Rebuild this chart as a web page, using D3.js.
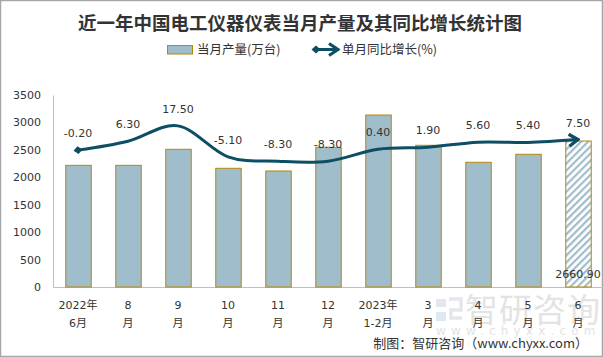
<!DOCTYPE html>
<html><head><meta charset="utf-8">
<script src="https://cdn.jsdelivr.net/npm/d3@7"></script>
<style>html,body{margin:0;padding:0;background:#fff}svg{display:block}</style>
</head><body><svg id="c" width="603" height="357"></svg>
<script>
const categories = [["2022年","6月"],["8","月"],["9","月"],["10","月"],["11","月"],["12","月"],["2023年","1-2月"],["3","月"],["4","月"],["5","月"],["6","月"]];
const output = [2218, 2218, 2510, 2164, 2115, 2546, 3135, 2583, 2273, 2419, 2660.90];
const growth = [-0.20, 6.30, 17.50, -5.10, -8.30, -8.30, 0.40, 1.90, 5.60, 5.40, 7.50];
const yTicks = [0, 500, 1000, 1500, 2000, 2500, 3000, 3500];

const W = 603, H = 357;
const svg = d3.select("#c");
const numFont = "'DejaVu Sans', 'Noto Sans CJK SC', sans-serif";
const cjkFont = "'Noto Sans CJK SC', sans-serif";
const barFill = "#9fbdca", barStroke = "#b8860b", lineCol = "#0c4e63", txt = "#333";
const fmt2 = v => v.toFixed(2);

// border
svg.append("rect").attr("x",0.5).attr("y",0.5).attr("width",W-1).attr("height",H-1)
  .attr("fill","#fff").attr("stroke","#a6a6a6").attr("stroke-width",1.5);

const defs = svg.append("defs");
const pat = defs.append("pattern").attr("id","hatch").attr("patternUnits","userSpaceOnUse")
  .attr("width",5).attr("height",5).attr("patternTransform","rotate(45)");
pat.append("rect").attr("width",5).attr("height",5).attr("fill","#fff");
pat.append("rect").attr("x",0).attr("y",0).attr("width",2.2).attr("height",5).attr("fill",barFill);

defs.append("marker").attr("id","diam").attr("viewBox","-5 -5 10 10").attr("markerWidth",10).attr("markerHeight",10)
  .attr("markerUnits","userSpaceOnUse").attr("orient","auto")
  .append("path").attr("d","M-4.5,0L0,-4L4.5,0L0,4Z").attr("fill",lineCol);
defs.append("marker").attr("id","arr").attr("viewBox","-12 -8 14 16").attr("markerWidth",14).attr("markerHeight",16)
  .attr("markerUnits","userSpaceOnUse").attr("orient","auto")
  .append("path").attr("d","M-9,-6L0,0L-9,6").attr("fill","none").attr("stroke",lineCol).attr("stroke-width",3.2)
  .attr("stroke-linejoin","miter");

// title
svg.append("text").attr("x",300).attr("y",30).attr("text-anchor","middle")
  .attr("font-family","'Noto Sans CJK SC', serif").attr("font-weight","bold").attr("font-size",18.5)
  .attr("fill","#333").text("近一年中国电工仪器仪表当月产量及其同比增长统计图");

// legend
svg.append("rect").attr("x",167.5).attr("y",45.5).attr("width",25).attr("height",8.5)
  .attr("fill",barFill).attr("stroke",barStroke).attr("stroke-width",1);
svg.append("text").attr("x",197).attr("y",54).attr("font-family",cjkFont).attr("font-size",12.5)
  .attr("fill",txt).text("当月产量(万台)");
svg.append("line").attr("x1",316).attr("x2",338).attr("y1",49.5).attr("y2",49.5)
  .attr("stroke",lineCol).attr("stroke-width",3).attr("marker-start","url(#diam)").attr("marker-end","url(#arr)");
svg.append("text").attr("x",342).attr("y",54).attr("font-family",cjkFont).attr("font-size",12.5)
  .attr("fill",txt).text("单月同比增长(%)");

// scales
const x = d3.scaleBand().domain(d3.range(categories.length)).range([53,603]).paddingInner(0.49).paddingOuter(0.245);
const y = d3.scaleLinear().domain([0,3500]).range([287,95]);
const y2 = d3.scaleLinear().domain([-100,40]).range([287,95]);

// y axis labels
const yAxis = d3.axisLeft(y).tickValues(yTicks).tickFormat(d3.format("d")).tickSize(0).tickPadding(12);
const ga = svg.append("g").attr("transform","translate(53,0)").call(yAxis);
ga.select(".domain").attr("stroke","#bfbfbf").attr("stroke-width",1);
ga.selectAll("text").attr("font-family",numFont).attr("font-size",11).attr("fill",txt);

// x axis
const xAxis = d3.axisBottom(x).tickSize(0).tickFormat("");
const gx = svg.append("g").attr("transform","translate(0,287)").call(xAxis);
gx.select(".domain").attr("stroke","#bfbfbf").attr("stroke-width",1);
gx.selectAll(".tick").each(function(d){
  const g = d3.select(this);
  g.append("text").attr("y",22).attr("text-anchor","middle").attr("font-family",numFont).attr("font-size",11)
    .attr("fill",txt).text(categories[d][0]);
  g.append("text").attr("y",40).attr("text-anchor","middle").attr("font-family",numFont).attr("font-size",11)
    .attr("fill",txt).text(categories[d][1]);
});

// watermark (drawn behind axis labels)
const wm = svg.insert("g","g").attr("opacity",0.5);
wm.append("rect").attr("x",436).attr("y",299).attr("width",10).attr("height",8).attr("fill","#c9d3e3");
wm.append("rect").attr("x",436).attr("y",312).attr("width",10).attr("height",9).attr("fill","#bcd3ea");
wm.append("path").attr("d","M449,299h12v11h-10v8h11").attr("fill","none").attr("stroke","#c6cfdc").attr("stroke-width",3.5);
wm.append("text").attr("x",465).attr("y",322).attr("font-family",cjkFont).attr("font-size",33)
  .attr("fill","#c8c8c8").attr("letter-spacing",1).text("智研咨询");
wm.append("text").attr("x",436).attr("y",335).attr("font-family",numFont).attr("font-size",12)
  .attr("fill","#c8c8c8").attr("letter-spacing",5.2).text("www.chyxx.com");

// bars
svg.append("g").selectAll("rect").data(output).join("rect")
  .attr("x",(d,i)=>x(i)+0.5).attr("y",d=>y(d)).attr("width",x.bandwidth()).attr("height",d=>y(0)-y(d))
  .attr("fill",(d,i)=>i===output.length-1?"url(#hatch)":barFill)
  .attr("stroke",barStroke).attr("stroke-width",1);

// last bar value label
svg.append("text").attr("x",x(output.length-1)+x.bandwidth()/2).attr("y",278).attr("text-anchor","middle")
  .attr("font-family",numFont).attr("font-size",11).attr("fill",txt).text(fmt2(output[output.length-1]));

// line
const line = d3.line().x((d,i)=>x(i)+x.bandwidth()/2).y(d=>y2(d)).curve(d3.curveCatmullRom.alpha(0));
svg.append("path").datum(growth).attr("d",line).attr("fill","none").attr("stroke",lineCol).attr("stroke-width",3)
  .attr("marker-start","url(#diam)").attr("marker-end","url(#arr)");

svg.append("g").selectAll("text").data(growth).join("text")
  .attr("x",(d,i)=>x(i)+x.bandwidth()/2).attr("y",d=>y2(d)-13).attr("text-anchor","middle")
  .attr("font-family",numFont).attr("font-size",11).attr("fill",txt).text(d=>fmt2(d));

// footer
svg.append("text").attr("x",588).attr("y",348).attr("text-anchor","end").attr("font-family",cjkFont)
  .attr("font-size",13).attr("fill","#333").text("制图：智研咨询（www.chyxx.com）");
</script></body></html>
